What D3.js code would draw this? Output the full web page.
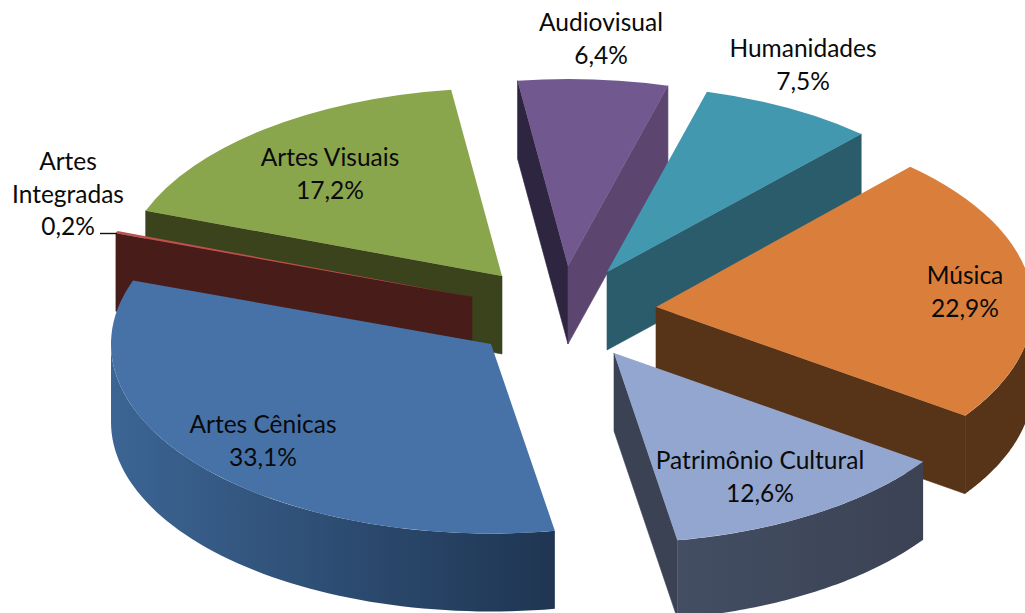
<!DOCTYPE html>
<html><head><meta charset="utf-8">
<script src="https://cdn.jsdelivr.net/npm/d3@7/dist/d3.min.js"></script>
<style>html,body{margin:0;padding:0;background:#fff;overflow:hidden}svg{display:block}</style>
</head><body><div id="c"></div>
<script>
// Data (clockwise from Música)
const categories = ["Música","Patrimônio Cultural","Artes Cênicas","Artes Integradas","Artes Visuais","Audiovisual","Humanidades"];
const shares = [22.9,12.6,33.1,0.2,17.2,6.4,7.5];
const shareLabels = ["22,9%","12,6%","33,1%","0,2%","17,2%","6,4%","7,5%"];

// Styles
const topColors  = ["#d97f3b","#93a6cf","#4672a8","#c0504d","#8aa64d","#71588f","#4298af"];
const startFace  = ["#573317","#3b4254","#203654","#471c19","#3a431c","#2e2540","#2a5c6b"];
const endFace    = ["#573317","#3b4254","#203654","#471c19","#3a431c","#5c4670","#2a5c6b"];
const wallFrom   = ["#573317","#434e63","#3c6594","#471c19","#3a431c","#2e2540","#2a5c6b"];
const wallTo     = ["#573317","#3b4254","#1f3552","#471c19","#3a431c","#2e2540","#2a5c6b"];

// Layout
const W = 1025, H = 613, depth = 78;
const radiusX = [377,377,380,378,380,377,377];
const radiusY = [190,190,189.5,190,188,187,187];
const apexX = [656,614,491,472,502,568,607];
const apexY = [307,353,344,297,276,266,272];
const labelX = [965,760,263,68,330,601,803];
const labelY = [284,469,433,170,166,31,57];
const lineGap = 32.7;
const drawOrder = [4,3,5,6,0,1,2];

const svg = d3.select("#c").append("svg").attr("width",W).attr("height",H);
const defs = svg.append("defs");

const startDeg = 42.4;
const pie = d3.pie().sort(null).value(d=>d)
  .startAngle(startDeg*Math.PI/180).endAngle((startDeg+360)*Math.PI/180);
const arcs = pie(shares);
const arcGen = d3.arc().innerRadius(0);
const px = (i,a)=>apexX[i]+radiusX[i]*Math.sin(a);
const py = (i,a)=>apexY[i]-radiusY[i]*Math.cos(a);
const poly = d3.line();

drawOrder.forEach(i=>{
  const d = arcs[i], a0=d.startAngle, a1=d.endAngle;
  const g = svg.append("g");
  const face = (a,fill)=>{
    const pts=[[apexX[i],apexY[i]],[px(i,a),py(i,a)],[px(i,a),py(i,a)+depth],[apexX[i],apexY[i]+depth]];
    g.append("path").attr("d",poly(pts)+"Z").attr("fill",fill).attr("stroke",fill).attr("stroke-width",0.6);
  };
  if(Math.sin(a0)<0) face(a0,startFace[i]);
  if(Math.sin(a1)>0) face(a1,endFace[i]);
  const w0=Math.max(a0,Math.PI/2), w1=Math.min(a1,Math.PI*1.5);
  if(w1>w0){
    const id="wall"+i, xs=[px(i,w0),px(i,w1)];
    const gr=defs.append("linearGradient").attr("id",id).attr("gradientUnits","userSpaceOnUse")
      .attr("x1",d3.min(xs)).attr("x2",d3.max(xs)).attr("y1",0).attr("y2",0);
    gr.append("stop").attr("offset",0).attr("stop-color",wallFrom[i]);
    gr.append("stop").attr("offset",1).attr("stop-color",wallTo[i]);
    const as=d3.range(0,61).map(k=>w0+(w1-w0)*k/60);
    const pts=as.map(a=>[px(i,a),py(i,a)]).concat(as.slice().reverse().map(a=>[px(i,a),py(i,a)+depth]));
    g.append("path").attr("d",poly(pts)+"Z").attr("fill",`url(#${id})`);
  }
  g.append("path").attr("d",arcGen.outerRadius(radiusX[i])(d))
    .attr("transform",`translate(${apexX[i]},${apexY[i]}) scale(1,${radiusY[i]/radiusX[i]})`)
    .attr("fill",topColors[i]);
});

// Leader line for the tiny slice
svg.append("line").attr("x1",100).attr("x2",117).attr("y1",233.5).attr("y2",233.5)
  .attr("stroke","#111").attr("stroke-width",1.4);

// Labels
const labels = svg.append("g").attr("font-family","Lato, 'Open Sans', sans-serif")
  .attr("font-size",24.5).attr("fill","#0a0a0a").attr("text-anchor","middle");
categories.forEach((c,i)=>{
  const lines = c==="Artes Integradas" ? ["Artes","Integradas"] : [c];
  const t = lines.concat([shareLabels[i]]);
  t.forEach((s,k)=>{
    labels.append("text").attr("x",labelX[i]).attr("y",labelY[i]+k*lineGap).text(s);
  });
});
</script></body></html>
